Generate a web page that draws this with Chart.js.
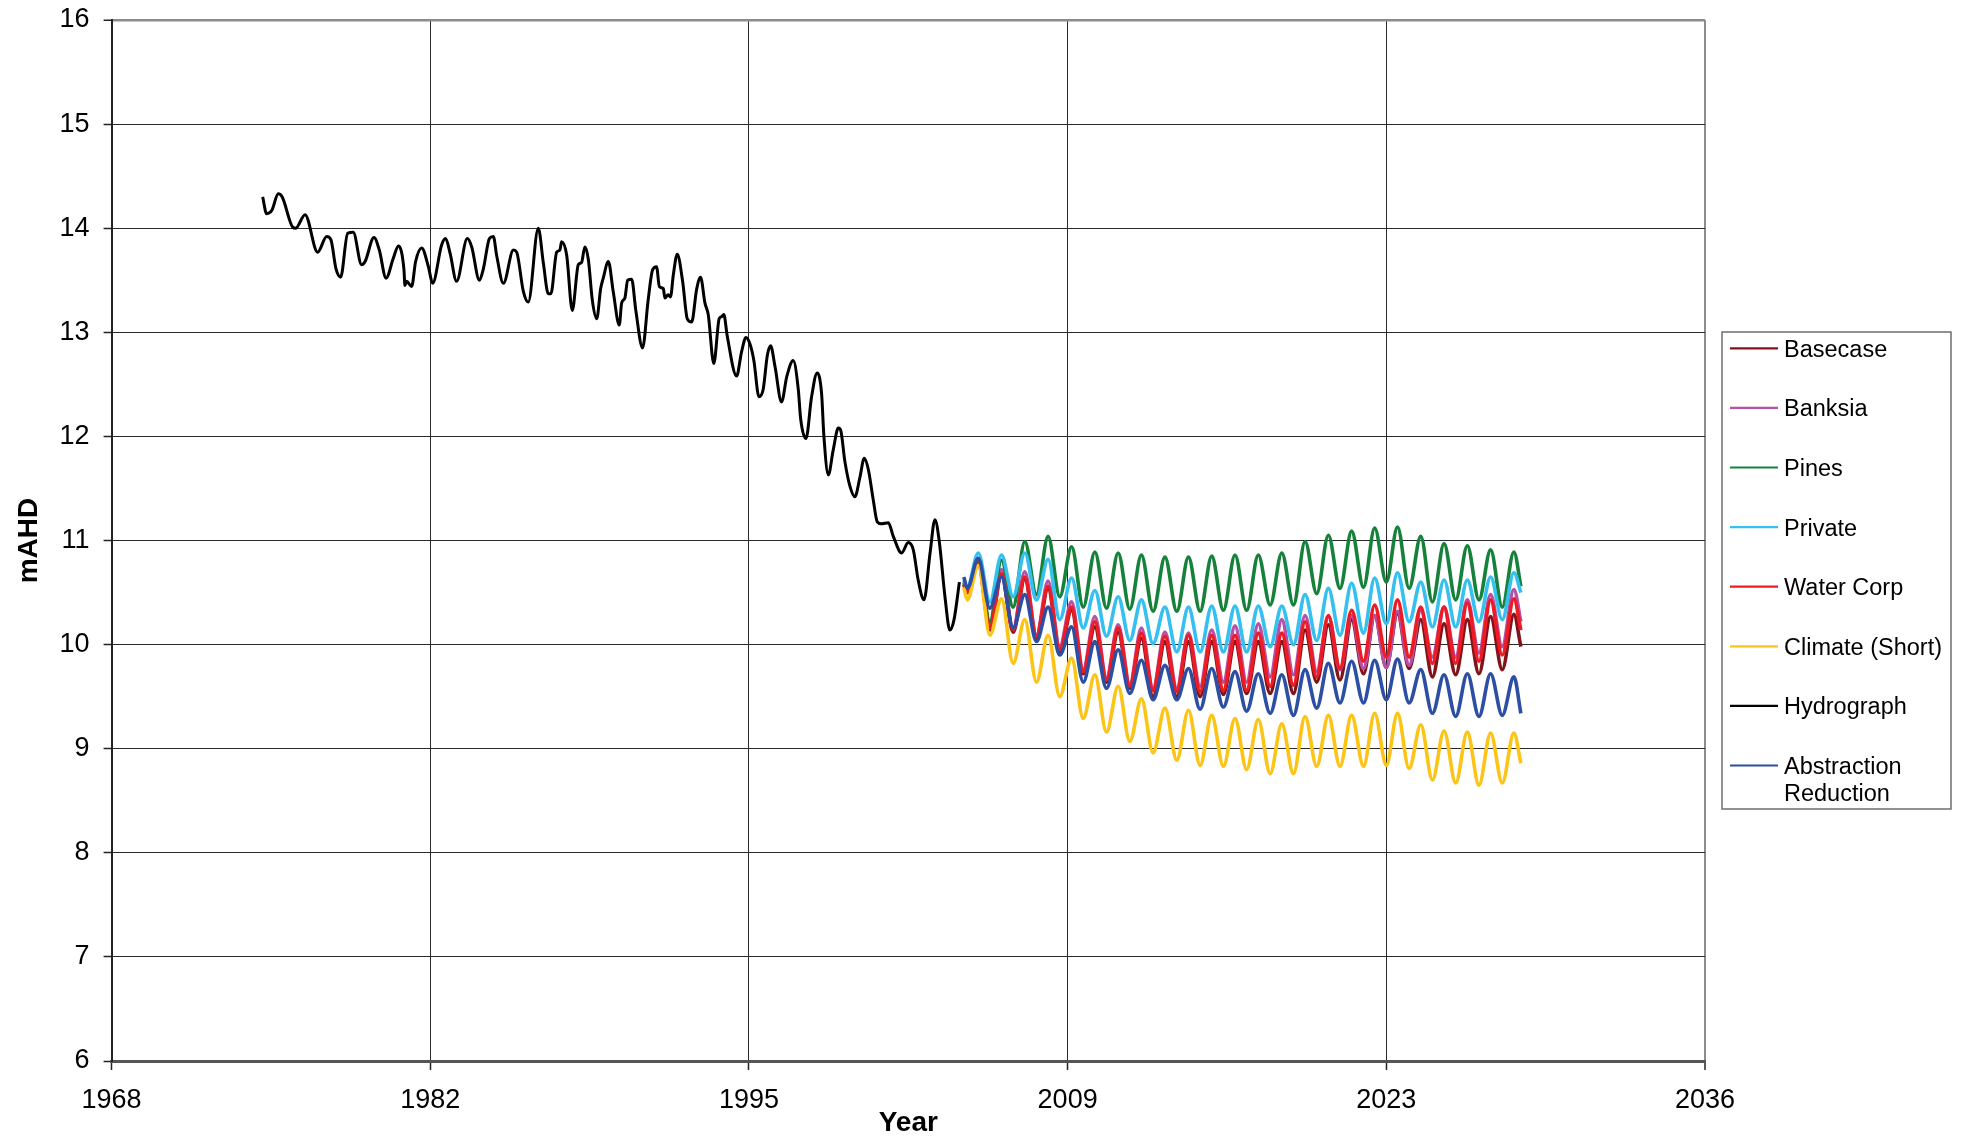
<!DOCTYPE html>
<html>
<head>
<meta charset="utf-8">
<title>Hydrograph and scenario projections</title>
<script src="https://cdn.jsdelivr.net/npm/chart.js@4.4.1/dist/chart.umd.min.js"></script>
<style>
  html, body { margin: 0; padding: 0; background: #fff; }
  #wrap { width: 1966px; height: 1141px; }
</style>
</head>
<body>
<div id="wrap"><canvas id="graf" width="1966" height="1141"></canvas></div>
<script>
// x axis: Excel date serials 25000..50000 step 5000, shown as decimal years
const xTickValues = [1968.44, 1982.13, 1995.82, 2009.51, 2023.20, 2036.89];
const xTickLabels = ["1968", "1982", "1995", "2009", "2023", "2036"];

const seriesNames = ["Basecase", "Banksia", "Pines", "Private", "Water Corp", "Climate (Short)", "Hydrograph", "Abstraction Reduction"];
const seriesColors = ["#80141a", "#b552a8", "#16813a", "#36c0ef", "#ed1c24", "#fcc417", "#000000", "#2d4fa3"];

// measured hydrograph
const hydroYears = [
  1974.93, 1975.10, 1975.32, 1975.60, 1975.77, 1976.22, 1976.35, 1976.75, 1977.29, 1977.68,
  1977.86, 1978.08, 1978.28, 1978.58, 1978.82, 1979.18, 1979.33, 1979.71, 1979.94, 1980.23,
  1980.54, 1980.76, 1981.00, 1981.04, 1981.11, 1981.33, 1981.50, 1981.76, 1982.05, 1982.23,
  1982.62, 1982.79, 1982.98, 1983.26, 1983.72, 1983.91, 1984.24, 1984.41, 1984.67, 1984.84,
  1984.98, 1985.27, 1985.70, 1985.84, 1986.13, 1986.34, 1986.77, 1986.99, 1987.20, 1987.31,
  1987.56, 1987.70, 1987.77, 1987.99, 1988.23, 1988.49, 1988.63, 1988.77, 1988.92, 1989.09,
  1989.28, 1989.45, 1989.56, 1989.78, 1989.99, 1990.25, 1990.35, 1990.49, 1990.61, 1990.78,
  1990.96, 1991.25, 1991.49, 1991.68, 1991.85, 1991.97, 1992.14, 1992.21, 1992.35, 1992.45,
  1992.57, 1992.74, 1992.97, 1993.17, 1993.36, 1993.57, 1993.74, 1993.93, 1994.07, 1994.31,
  1994.54, 1994.64, 1994.74, 1994.89, 1995.29, 1995.50, 1995.69, 1995.86, 1996.03, 1996.25,
  1996.43, 1996.61, 1996.75, 1996.94, 1997.22, 1997.44, 1997.72, 1997.94, 1998.04, 1998.27,
  1998.51, 1998.75, 1998.94, 1999.04, 1999.23, 1999.44, 1999.66, 1999.76, 1999.94, 2000.16,
  2000.37, 2000.59, 2000.77, 2000.95, 2001.16, 2001.33, 2001.52, 2001.81, 2002.02, 2002.38,
  2002.66, 2002.88, 2003.09, 2003.34, 2003.60, 2003.81, 2003.99, 2004.24, 2004.45, 2004.63,
  2004.86
];
const hydroLevels = [
  14.30, 14.14, 14.17, 14.33, 14.30, 14.01, 14.00, 14.13, 13.77, 13.92,
  13.89, 13.61, 13.53, 13.95, 13.96, 13.65, 13.68, 13.91, 13.79, 13.52,
  13.71, 13.83, 13.60, 13.45, 13.49, 13.44, 13.68, 13.81, 13.63, 13.47,
  13.84, 13.90, 13.76, 13.49, 13.90, 13.82, 13.50, 13.61, 13.90, 13.92,
  13.74, 13.47, 13.79, 13.77, 13.39, 13.29, 14.00, 13.66, 13.37, 13.37,
  13.77, 13.79, 13.87, 13.74, 13.21, 13.65, 13.67, 13.82, 13.70, 13.31,
  13.13, 13.42, 13.52, 13.68, 13.39, 13.07, 13.28, 13.33, 13.50, 13.51,
  13.21, 12.85, 13.31, 13.60, 13.63, 13.44, 13.42, 13.33, 13.36, 13.34,
  13.55, 13.75, 13.49, 13.13, 13.10, 13.41, 13.53, 13.28, 13.17, 12.70,
  13.13, 13.15, 13.17, 12.96, 12.58, 12.81, 12.95, 12.89, 12.73, 12.38,
  12.45, 12.78, 12.87, 12.67, 12.33, 12.57, 12.73, 12.45, 12.17, 11.98,
  12.38, 12.61, 12.41, 12.00, 11.63, 11.87, 12.08, 12.06, 11.76, 11.52,
  11.42, 11.61, 11.79, 11.68, 11.39, 11.18, 11.16, 11.17, 11.04, 10.88,
  10.98, 10.91, 10.62, 10.43, 10.88, 11.20, 11.00, 10.46, 10.14, 10.24,
  10.60
];

// projected scenarios (seasonal highs and lows)
const projYears = [
  2005.05, 2005.20, 2005.67,
  2006.17, 2006.67, 2007.17, 2007.67, 2008.17, 2008.67, 2009.17, 2009.68,
  2010.18, 2010.68, 2011.18, 2011.68, 2012.18, 2012.68, 2013.18, 2013.69,
  2014.20, 2014.70, 2015.20, 2015.70, 2016.20, 2016.70, 2017.20, 2017.70,
  2018.21, 2018.71, 2019.21, 2019.71, 2020.21, 2020.71, 2021.21, 2021.71,
  2022.22, 2022.70, 2023.20, 2023.68, 2024.18, 2024.68, 2025.18, 2025.68,
  2026.18, 2026.68, 2027.18, 2027.68, 2028.18, 2028.68, 2028.98
];
const basecase = [
  10.58, 10.50, 10.78,
  10.14, 10.67, 10.12, 10.63, 10.06, 10.54, 9.93, 10.33,
  9.72, 10.17, 9.64, 10.12, 9.58, 10.06, 9.50, 10.03,
  9.50, 10.03, 9.50, 10.03, 9.52, 10.03, 9.53, 10.03,
  9.53, 10.03, 9.53, 10.14, 9.64, 10.19, 9.66, 10.24,
  9.72, 10.28, 9.78, 10.30, 9.77, 10.24, 9.69, 10.20,
  9.71, 10.24, 9.72, 10.27, 9.76, 10.29, 9.98
];
const banksia = [
  10.58, 10.50, 10.79,
  10.19, 10.72, 10.15, 10.70, 10.09, 10.61, 9.98, 10.41,
  9.76, 10.27, 9.68, 10.19, 9.62, 10.16, 9.58, 10.12,
  9.58, 10.11, 9.60, 10.14, 9.64, 10.18, 9.64, 10.20,
  9.69, 10.24, 9.71, 10.28, 9.74, 10.27, 9.76, 10.28,
  9.77, 10.28, 9.78, 10.32, 9.80, 10.33, 9.88, 10.36,
  9.88, 10.43, 9.92, 10.48, 9.98, 10.53, 10.22
];
const pines = [
  10.60, 10.52, 10.80,
  10.22, 10.81, 10.36, 10.99, 10.48, 11.04, 10.46, 10.94,
  10.36, 10.89, 10.35, 10.88, 10.34, 10.86, 10.32, 10.84,
  10.32, 10.84, 10.32, 10.85, 10.33, 10.86, 10.33, 10.86,
  10.38, 10.88, 10.38, 10.99, 10.49, 11.05, 10.54, 11.09,
  10.55, 11.12, 10.60, 11.13, 10.54, 11.04, 10.41, 10.97,
  10.43, 10.95, 10.43, 10.91, 10.36, 10.89, 10.56
];
const privateS = [
  10.62, 10.55, 10.88,
  10.41, 10.86, 10.46, 10.88, 10.43, 10.82, 10.24, 10.64,
  10.16, 10.52, 10.08, 10.46, 10.04, 10.43, 10.01, 10.36,
  9.93, 10.36, 9.93, 10.37, 9.93, 10.37, 9.93, 10.37,
  9.98, 10.37, 10.00, 10.48, 10.04, 10.54, 10.09, 10.59,
  10.11, 10.64, 10.20, 10.69, 10.22, 10.60, 10.17, 10.62,
  10.17, 10.62, 10.22, 10.65, 10.24, 10.69, 10.50
];
const waterCorp = [
  10.58, 10.50, 10.78,
  10.16, 10.68, 10.14, 10.65, 10.08, 10.56, 9.95, 10.36,
  9.74, 10.22, 9.66, 10.16, 9.60, 10.11, 9.56, 10.08,
  9.55, 10.09, 9.55, 10.09, 9.56, 10.09, 9.56, 10.11,
  9.60, 10.11, 9.61, 10.22, 9.69, 10.28, 9.77, 10.33,
  9.84, 10.38, 9.88, 10.43, 9.88, 10.36, 9.82, 10.36,
  9.82, 10.40, 9.84, 10.43, 9.90, 10.44, 10.14
];
const climateShort = [
  10.55, 10.43, 10.76,
  10.09, 10.44, 9.82, 10.24, 9.64, 10.09, 9.50, 9.87,
  9.29, 9.71, 9.16, 9.60, 9.07, 9.48, 8.96, 9.39,
  8.89, 9.37, 8.84, 9.32, 8.83, 9.29, 8.80, 9.28,
  8.76, 9.24, 8.76, 9.31, 8.83, 9.32, 8.83, 9.32,
  8.83, 9.34, 8.84, 9.34, 8.81, 9.23, 8.70, 9.17,
  8.67, 9.16, 8.65, 9.15, 8.67, 9.15, 8.86
];
const abstraction = [
  10.65, 10.54, 10.83,
  10.35, 10.65, 10.16, 10.48, 10.03, 10.36, 9.90, 10.17,
  9.64, 10.03, 9.58, 9.95, 9.53, 9.85, 9.47, 9.80,
  9.47, 9.77, 9.38, 9.77, 9.40, 9.74, 9.36, 9.72,
  9.34, 9.71, 9.32, 9.76, 9.39, 9.82, 9.44, 9.84,
  9.44, 9.85, 9.47, 9.86, 9.44, 9.76, 9.34, 9.71,
  9.31, 9.72, 9.31, 9.72, 9.32, 9.69, 9.34
];

const pismo = "'Liberation Sans', Arial, Helvetica, sans-serif";

function body(xs, ys) {
  return xs.map(function(x, i) { return { x: x, y: ys[i] }; });
}

const seriesData = [
  body(projYears, basecase),
  body(projYears, banksia),
  body(projYears, pines),
  body(projYears, privateS),
  body(projYears, waterCorp),
  body(projYears, climateShort),
  body(hydroYears, hydroLevels),
  body(projYears, abstraction)
];

const datasets = seriesNames.map(function(name, i) {
  return {
    label: name,
    data: seriesData[i],
    borderColor: seriesColors[i],
    backgroundColor: seriesColors[i],
    borderWidth: name === "Hydrograph" ? 3 : 3.6,
    pointRadius: 0,
    fill: false,
    order: seriesNames.length - i
  };
});

// legend in a framed box on the right, like the original
const ramecekLegendy = {
  id: "ramecekLegendy",
  afterDraw: function(chart) {
    const ctx = chart.ctx;
    const left = chart.chartArea.right + 17, top = 332, w = 229, h = 477;
    ctx.save();
    ctx.strokeStyle = "#6e6e6e";
    ctx.lineWidth = 1.5;
    ctx.strokeRect(left, top, w, h);
    ctx.font = "23.5px " + pismo;
    ctx.fillStyle = "#000";
    ctx.textBaseline = "alphabetic";
    const maxW = left + w - (left + 62) - 4;
    chart.data.datasets.forEach(function(ds, i) {
      const y = top + 16.3 + i * 59.6;
      ctx.strokeStyle = ds.borderColor;
      ctx.lineWidth = 2.2;
      ctx.beginPath();
      ctx.moveTo(left + 8, y);
      ctx.lineTo(left + 56, y);
      ctx.stroke();
      // simple word wrap
      const words = ds.label.split(" ");
      const lines = [];
      let cur = "";
      words.forEach(function(wd) {
        const t = cur ? cur + " " + wd : wd;
        if (cur && ctx.measureText(t).width > maxW) { lines.push(cur); cur = wd; } else { cur = t; }
      });
      lines.push(cur);
      lines.forEach(function(ln, k) {
        ctx.fillText(ln, left + 62, y + 8.4 + k * 27);
      });
    });
    ctx.restore();
  }
};

new Chart(document.getElementById("graf").getContext("2d"), {
  type: "line",
  data: { datasets: datasets },
  options: {
    responsive: false,
    devicePixelRatio: 1,
    animation: false,
    layout: { padding: { left: 0, right: 261, top: 20, bottom: 0 } },
    elements: { line: { cubicInterpolationMode: "monotone" }, point: { radius: 0 } },
    plugins: { legend: { display: false }, tooltip: { enabled: false } },
    scales: {
      x: {
        type: "linear",
        min: xTickValues[0],
        max: xTickValues[xTickValues.length - 1],
        afterBuildTicks: function(s) { s.ticks = xTickValues.map(function(v) { return { value: v }; }); },
        afterFit: function(s) { s.height = 80; s.paddingLeft = 0; s.paddingRight = 0; },
        ticks: {
          autoSkip: false, maxRotation: 0, padding: 14, color: "#000",
          font: { size: 27, family: pismo },
          callback: function(v, i) { return xTickLabels[i]; }
        },
        grid: {
          color: function(c) { return c.index === xTickValues.length - 1 ? "#8c8c8c" : "#2a2a2a"; },
          lineWidth: function(c) { return c.index === xTickValues.length - 1 ? 2 : 1; },
          tickLength: 9, tickColor: "#222", tickWidth: 1.5
        },
        border: { color: "#555", width: 3 },
        title: {
          display: true, text: "Year", color: "#000",
          font: { size: 28, weight: "bold", family: pismo, lineHeight: 1 },
          padding: { top: 0, bottom: 4 }
        }
      },
      y: {
        min: 6, max: 16,
        afterFit: function(s) { s.width = 111.6; s.paddingTop = 0; s.paddingBottom = 0; },
        ticks: { stepSize: 1, padding: 14, color: "#000", font: { size: 27, family: pismo } },
        grid: {
          color: function(c) { return c.tick && c.tick.value === 16 ? "#8c8c8c" : (c.tick && c.tick.value === 6 ? "#555" : "#2a2a2a"); },
          lineWidth: function(c) { return c.tick && c.tick.value === 16 ? 2.5 : 1; },
          tickLength: 8, tickColor: "#222", tickWidth: 1.5
        },
        border: { color: "#222", width: 2 },
        title: {
          display: true, text: "mAHD", color: "#000",
          font: { size: 28, weight: "bold", family: pismo, lineHeight: 1 },
          padding: { top: 15, bottom: 0 }
        }
      }
    }
  },
  plugins: [ramecekLegendy]
});
</script>
</body>
</html>
